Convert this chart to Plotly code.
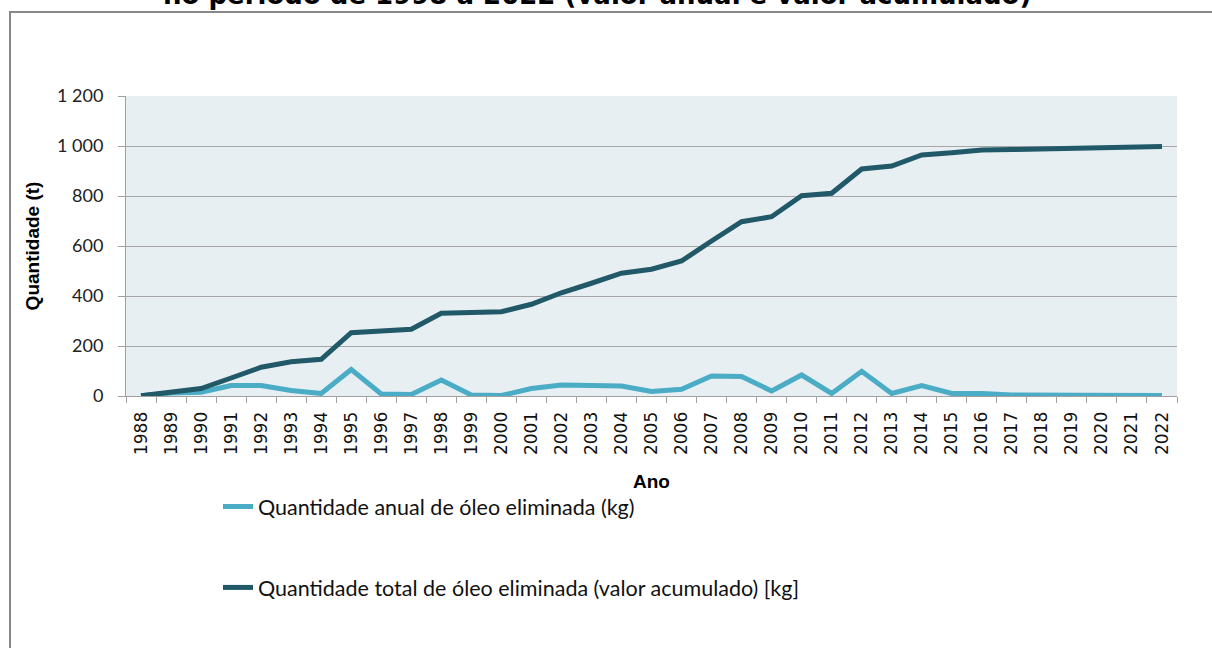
import plotly.graph_objects as go

years = [str(y) for y in range(1988, 2023)]
anual = [1, 12, 15, 42, 42, 22, 10, 106, 8, 6, 64, 4, 2, 30, 44, 40, 40, 18, 27, 80, 78, 20, 84, 10, 99, 10, 42, 10, 10, 4, 3, 5, 3, 3, 2]
acumulado = [1, 15, 30, 72, 115, 137, 147, 253, 261, 267, 331, 335, 337, 367, 413, 451, 491, 507, 540, 620, 697, 717, 801, 811, 908, 920, 964, 973, 984, 986, 989, 993, 994, 997, 998]

name_anual = "Quantidade anual de óleo eliminada (kg)"
name_acum = "Quantidade total de óleo eliminada (valor acumulado) [kg]"
title_text = "no período de 1998 a 2022 (valor anual e valor acumulado)"
y_ticks = [0, 200, 400, 600, 800, 1000, 1200]

W, H = 1212, 648
L, R, T, B = 126, 1177, 96, 396

def px_x(p):
    return (p - L) / (R - L)

def px_y(p):
    return (B - p) / (B - T)

fig = go.Figure()
fig.add_trace(go.Scatter(x=years, y=anual, mode="lines", name=name_anual,
                         line=dict(color="#4bacc6", width=5), legendgroup="a"))
fig.add_trace(go.Scatter(x=years, y=acumulado, mode="lines", name=name_acum,
                         line=dict(color="#215968", width=5), legendgroup="b"))

fig.update_layout(
    width=W, height=H,
    margin=dict(l=L, r=W - R, t=T, b=H - B, autoexpand=False),
    paper_bgcolor="white",
    plot_bgcolor="#e8eff3",
    separators=", ",
    showlegend=True,
    legend=dict(x=px_x(218), y=px_y(486), xanchor="left", yanchor="top",
                font=dict(family="Lato", size=21.5, color="#111"),
                tracegroupgap=50, bgcolor="rgba(0,0,0,0)", itemwidth=30),
    xaxis=dict(
        type="category", tickson="boundaries", ticks="outside", ticklen=6,
        tickcolor="#a0a0a0", showline=True, linecolor="#a0a0a0", linewidth=1,
        showgrid=False, tickangle=-90, ticklabelstandoff=8,
        tickfont=dict(family="DejaVu Sans", size=17, color="#111"),
        title=dict(text="<b>Ano</b>", standoff=20,
                   font=dict(family="Liberation Sans", size=19, color="#000")),
        range=[-0.5, len(years) - 0.5],
    ),
    yaxis=dict(
        range=[0, 1200], tickvals=y_ticks, separatethousands=True, tickformat=",d",
        ticks="outside", ticklen=7, tickcolor="#a0a0a0", ticklabelstandoff=11,
        showline=True, linecolor="#a0a0a0", linewidth=1,
        showgrid=True, gridcolor="#a6a6a6", gridwidth=1, zeroline=False,
        tickfont=dict(family="Lato", size=18, color="#222"),
        title=dict(text="<b>Quantidade (t)</b>", standoff=12,
                   font=dict(family="Liberation Sans", size=19, color="#000")),
    ),
)

fig.add_shape(type="path", xref="paper", yref="paper",
              path=f"M {px_x(W + 5)} {px_y(12)} L {px_x(10)} {px_y(12)} L {px_x(10)} {px_y(H + 5)}",
              line=dict(color="#888", width=2), layer="below")

fig.add_annotation(text=f"<b>{title_text}</b>", xref="paper", yref="paper",
                   x=px_x(597), y=px_y(12), xanchor="center", yanchor="bottom",
                   showarrow=False, font=dict(family="DejaVu Sans", size=26, color="#000"))

fig.write_html("out.html", config={"displayModeBar": False},
               post_script="document.body.style.margin='0px';document.documentElement.style.overflow='hidden';document.body.style.overflow='hidden';")
